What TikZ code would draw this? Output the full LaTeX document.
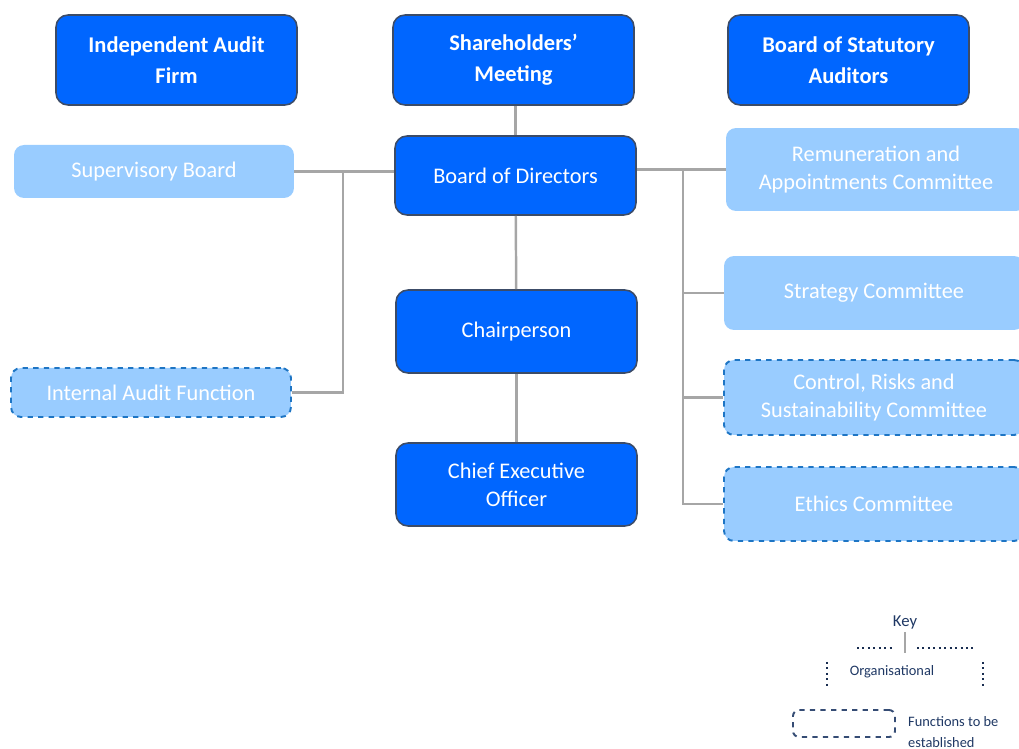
\documentclass[tikz,border=0pt]{standalone}
\usepackage{fontspec}
\setmainfont{Carlito}
\usetikzlibrary{positioning}
\definecolor{darkblue}{RGB}{0,102,255}
\definecolor{darkedge}{RGB}{60,76,104}
\definecolor{lightblue}{RGB}{153,204,255}
\definecolor{dashblue}{RGB}{30,117,196}
\definecolor{connect}{RGB}{166,166,166}
\definecolor{keynavy}{RGB}{31,56,100}

\tikzset{
  topbox/.style={draw=darkedge, fill=darkblue, line width=0.9pt, rounded corners=0.24cm,
    text=white, font=\fontsize{12.8}{17.5}\selectfont\bfseries, align=center,
    minimum width=4.82cm, minimum height=1.8cm},
  mainbox/.style={draw=darkedge, fill=darkblue, line width=0.9pt, rounded corners=0.24cm,
    text=white, align=center, minimum width=4.82cm},
  subbox/.style={fill=lightblue, rounded corners=0.2cm, text=white, align=center},
  tbd/.style={subbox, draw=dashblue, dashed, line width=1.1pt},
  conn/.style={draw=connect, line width=1.4pt}
}

\begin{document}
\begin{tikzpicture}[x=0.02cm,y=-0.02cm,font=\fontsize{12.7}{16}\selectfont]
   \useasboundingbox (0,0) rectangle (1019,749);
   % top row
   \node [topbox] (audit) at (176.5,60) {Independent Audit\\Firm};
   \node [topbox] (share) at (513.5,60) {Shareholders’\\Meeting};
   \node [topbox] (statutory) at (848.5,60) {Board of Statutory\\Auditors};
   % main line
   \node [mainbox, minimum height=1.58cm] (bod) at (515.5,175.5) {Board of Directors};
   \node [mainbox, minimum height=1.66cm] (chair) at (516.5,331.5) {Chairperson};
   \node [mainbox, minimum height=1.66cm] (ceo) at (516.5,484.5) {Chief Executive\\Officer};
   % left side
   \node [subbox, minimum width=5.6cm, minimum height=1.06cm] (super) at (154,171.5) {Supervisory Board};
   \node [tbd, minimum width=5.6cm, minimum height=0.98cm] (internal) at (151,392.5) {Internal Audit Function};
   % committees
   \node [subbox, minimum width=6cm, minimum height=1.66cm] (remun) at (876,169.5) {Remuneration and\\Appointments Committee};
   \node [subbox, minimum width=6cm, minimum height=1.48cm] (strategy) at (874,293) {Strategy Committee};
   \node [tbd, minimum width=6cm, minimum height=1.5cm] (control) at (874,397.5) {Control, Risks and\\Sustainability Committee};
   \node [tbd, minimum width=6cm, minimum height=1.48cm] (ethics) at (874,504) {Ethics Committee};

   \coordinate (leftjoin) at (343,171.5);
   \coordinate (rightjoin) at (683,170.5);
   \draw[conn] (bod.north) -- (bod.north |- share.south);
   \path[conn]
    (bod) edge (chair)
    (chair) edge (ceo);
   \draw[conn] (bod.west |- super) -- (super.east);
   \draw[conn] (leftjoin) |- (internal.east);
   \draw[conn] (bod.east |- remun) -- (remun.west);
   \draw[conn] (rightjoin) |- (strategy.west);
   \draw[conn] (rightjoin) |- (control.west);
   \draw[conn] (rightjoin) |- (ethics.west);

   % key
   \node [text=keynavy, font=\fontsize{9.5}{11}\selectfont] (key) at (905,622) {Key};
   \node [text=keynavy, font=\fontsize{8.2}{10}\selectfont] (organ) at (892,672) {Organisational};
   \draw[connect, line width=1.3pt] (905,632) -- (905,653);
   \draw[keynavy!80!black, dotted, line width=1.1pt] (857,648) -- (893,648);
   \draw[keynavy!80!black, dotted, line width=1.1pt] (917,648) -- (973,648);
   \draw[keynavy!80!black, dotted, line width=1.1pt] (827,662) -- (827,688);
   \draw[keynavy!80!black, dotted, line width=1.1pt] (983,662) -- (983,688);
   \node [draw=keynavy!90, dashed, line width=1.1pt, rounded corners=0.12cm,
     minimum width=2.04cm, minimum height=0.54cm] (keybox) at (844,723.5) {};
   \node [text=keynavy, align=left, anchor=west, font=\fontsize{8.2}{11.5}\selectfont] (keytext) at (902,732) {Functions to be\\established};
\end{tikzpicture}
\end{document}
